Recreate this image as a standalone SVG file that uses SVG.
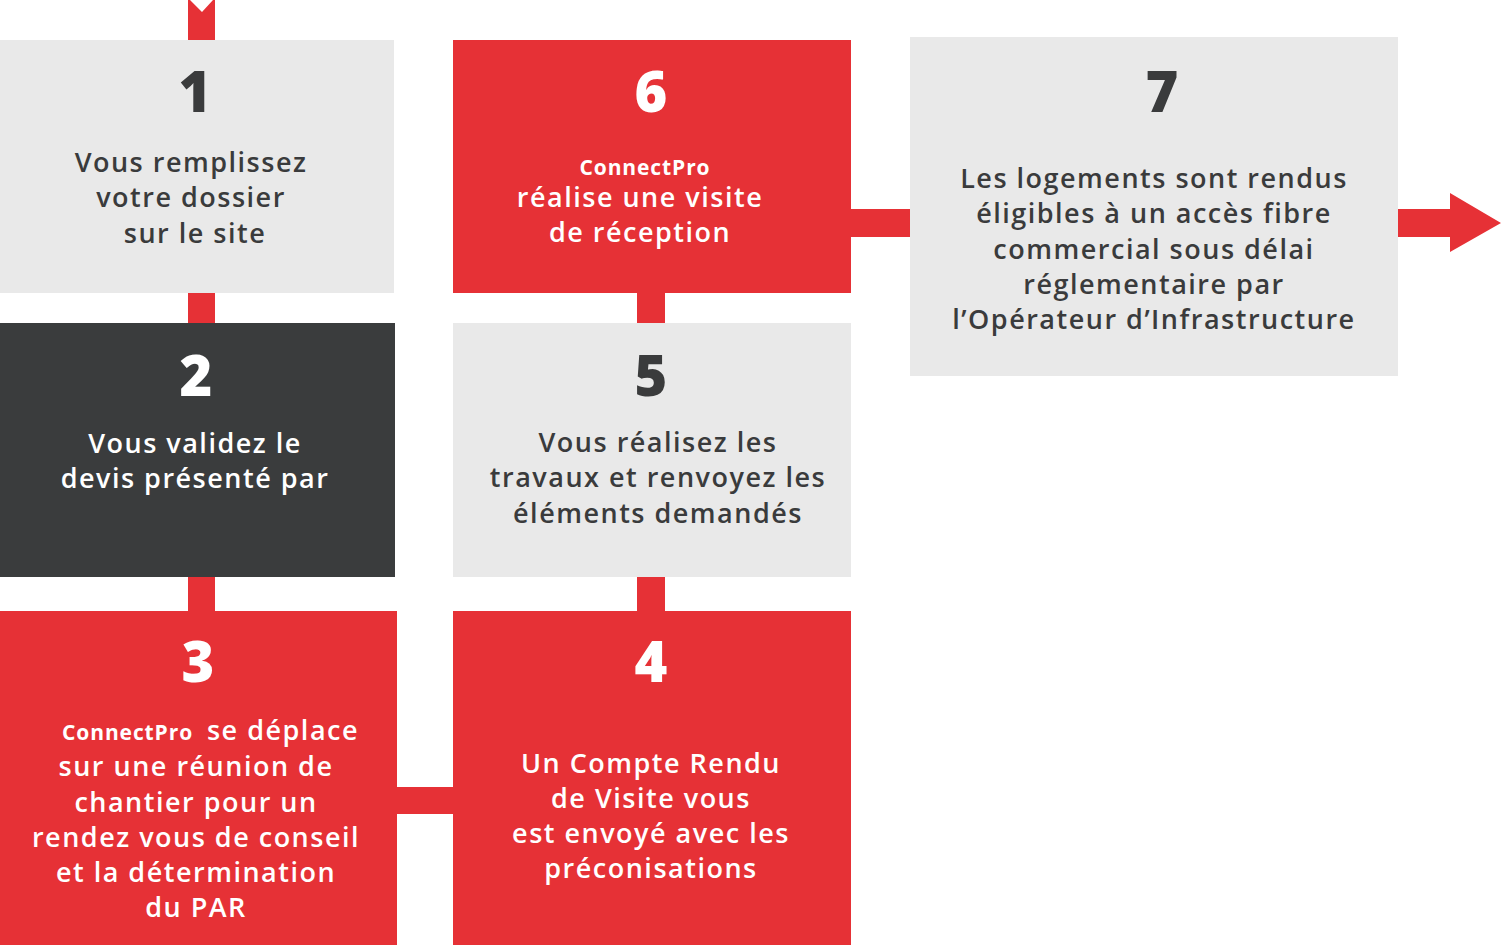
<svg xmlns="http://www.w3.org/2000/svg" width="1501" height="945" viewBox="0 0 1501 945">
<style>
.gray{fill:#e9e9e9}
.red{fill:#e63136}
.dark{fill:#3a3c3d}
.num{font-family:"Open Sans","Liberation Sans",sans-serif;font-weight:800;font-size:56px;text-anchor:middle}
.t{font-family:"Open Sans","Liberation Sans",sans-serif;font-weight:600;font-size:27px;text-anchor:middle;letter-spacing:1.5px}
.brand{font-family:"Open Sans","Liberation Sans",sans-serif;font-weight:700;font-size:21px;letter-spacing:0.9px}
.dk{fill:#3a3b3c}
.wh{fill:#ffffff}
</style>
<rect x="0" y="0" width="1501" height="945" fill="#ffffff"/>
<g id="connectors" class="red">
<polygon points="188,0 190,0 202,12 213,0 215,0 215,40 188,40"/>
<rect x="188" y="293" width="27" height="30"/>
<rect x="188" y="577" width="27" height="34"/>
<rect x="397" y="787" width="56" height="27"/>
<rect x="637" y="577" width="28" height="34"/>
<rect x="637" y="293" width="28" height="30"/>
<rect x="851" y="209" width="59" height="28"/>
<polygon points="1398,209 1450,209 1450,193 1501,223 1450,252 1450,237 1398,237"/>
</g>
<g id="node1">
<rect class="gray" x="0" y="40" width="394" height="253"/>
<text class="num dk" x="195" y="112">1</text>
<text class="t dk" x="191" y="172">Vous remplissez</text>
<text class="t dk" x="191" y="207">votre dossier</text>
<text class="t dk" x="195" y="243">sur le site</text>
</g>
<g id="node2">
<rect class="dark" x="0" y="323" width="395" height="254"/>
<text class="num wh" x="196" y="396">2</text>
<text class="t wh" x="195" y="453">Vous validez le</text>
<text class="t wh" x="195" y="488">devis présenté par</text>
</g>
<g id="node3">
<rect class="red" x="0" y="611" width="397" height="334"/>
<text class="num wh" x="198" y="682">3</text>
<text class="brand wh" x="62" y="740">ConnectPro</text>
<text class="t wh" x="283" y="740">se déplace</text>
<text class="t wh" x="196" y="776">sur une réunion de</text>
<text class="t wh" x="196" y="812">chantier pour un</text>
<text class="t wh" x="196" y="847">rendez vous de conseil</text>
<text class="t wh" x="196" y="882">et la détermination</text>
<text class="t wh" x="196" y="917">du PAR</text>
</g>
<g id="node4">
<rect class="red" x="453" y="611" width="398" height="334"/>
<text class="num wh" x="651" y="682">4</text>
<text class="t wh" x="651" y="773">Un Compte Rendu</text>
<text class="t wh" x="651" y="808">de Visite vous</text>
<text class="t wh" x="651" y="843">est envoyé avec les</text>
<text class="t wh" x="651" y="878">préconisations</text>
</g>
<g id="node5">
<rect class="gray" x="453" y="323" width="398" height="254"/>
<text class="num dk" x="651" y="396">5</text>
<text class="t dk" x="658" y="452">Vous réalisez les</text>
<text class="t dk" x="658" y="487">travaux et renvoyez les</text>
<text class="t dk" x="658" y="523">éléments demandés</text>
</g>
<g id="node6">
<rect class="red" x="453" y="40" width="398" height="253"/>
<text class="num wh" x="651" y="112">6</text>
<text class="brand wh" x="645" y="175" text-anchor="middle">ConnectPro</text>
<text class="t wh" x="640" y="207">réalise une visite</text>
<text class="t wh" x="640" y="242">de réception</text>
</g>
<g id="node7">
<rect class="gray" x="910" y="37" width="488" height="339"/>
<text class="num dk" x="1162" y="112">7</text>
<text class="t dk" x="1154" y="188">Les logements sont rendus</text>
<text class="t dk" x="1154" y="223">éligibles à un accès fibre</text>
<text class="t dk" x="1154" y="259">commercial sous délai</text>
<text class="t dk" x="1154" y="294">réglementaire par</text>
<text class="t dk" x="1154" y="329">l’Opérateur d’Infrastructure</text>
</g>
</svg>
